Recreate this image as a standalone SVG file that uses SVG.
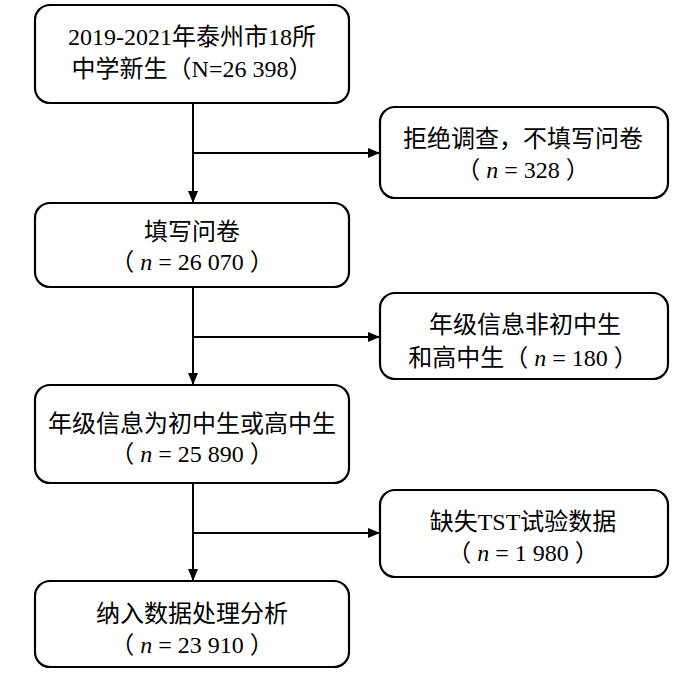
<svg xmlns="http://www.w3.org/2000/svg" width="700" height="673" viewBox="0 0 700 673">
<defs>
<marker id="arr" markerWidth="12" markerHeight="10" refX="12" refY="5" orient="auto" markerUnits="userSpaceOnUse">
<path d="M0,0 L12,5 L0,10 Z" fill="#000"/>
</marker>
<style>
.box{fill:#fff;stroke:#000;stroke-width:2.2}
.t{font-family:"Liberation Serif","Noto Sans CJK SC",serif;font-size:24px;fill:#000;text-anchor:middle}
.i{font-style:italic}
.c{fill:none;stroke:#000;stroke-width:2}
</style>
</defs>
<rect width="700" height="673" fill="#fff"/>
<g id="connectors">
<line class="c" x1="193" y1="103" x2="193" y2="203" marker-end="url(#arr)"/>
<line class="c" x1="193" y1="153" x2="380" y2="153" marker-end="url(#arr)"/>
<line class="c" x1="193" y1="287" x2="193" y2="385" marker-end="url(#arr)"/>
<line class="c" x1="193" y1="337" x2="380" y2="337" marker-end="url(#arr)"/>
<line class="c" x1="193" y1="483" x2="193" y2="581" marker-end="url(#arr)"/>
<line class="c" x1="193" y1="533" x2="380" y2="533" marker-end="url(#arr)"/>
</g>
<g id="n1">
<rect class="box" x="35" y="5" width="314" height="98" rx="15"/>
<text class="t" x="192" y="45">2019-2021年泰州市18所</text>
<text class="t" x="192" y="77">中学新生（N=26 398）</text>
</g>
<g id="n2">
<rect class="box" x="380" y="107" width="288" height="91" rx="15"/>
<text class="t" x="523" y="147">拒绝调查，不填写问卷</text>
<text class="t" x="523" y="178">（ <tspan class="i">n</tspan> = 328 ）</text>
</g>
<g id="n3">
<rect class="box" x="35" y="203" width="314" height="84" rx="15"/>
<text class="t" x="192" y="240">填写问卷</text>
<text class="t" x="192" y="270">（ <tspan class="i">n</tspan> = 26 070 ）</text>
</g>
<g id="n4">
<rect class="box" x="380" y="293" width="288" height="86" rx="15"/>
<text class="t" x="525" y="333">年级信息非初中生</text>
<text class="t" x="523" y="366">和高中生（ <tspan class="i">n</tspan> = 180 ）</text>
</g>
<g id="n5">
<rect class="box" x="35" y="385" width="314" height="98" rx="15"/>
<text class="t" x="192" y="432">年级信息为初中生或高中生</text>
<text class="t" x="192" y="462">（ <tspan class="i">n</tspan> = 25 890 ）</text>
</g>
<g id="n6">
<rect class="box" x="380" y="490" width="288" height="87" rx="15"/>
<text class="t" x="523" y="530">缺失TST试验数据</text>
<text class="t" x="523" y="561">（ <tspan class="i">n</tspan> = 1 980 ）</text>
</g>
<g id="n7">
<rect class="box" x="35" y="581" width="314" height="86" rx="15"/>
<text class="t" x="192" y="622">纳入数据处理分析</text>
<text class="t" x="192" y="653">（ <tspan class="i">n</tspan> = 23 910 ）</text>
</g>
</svg>
